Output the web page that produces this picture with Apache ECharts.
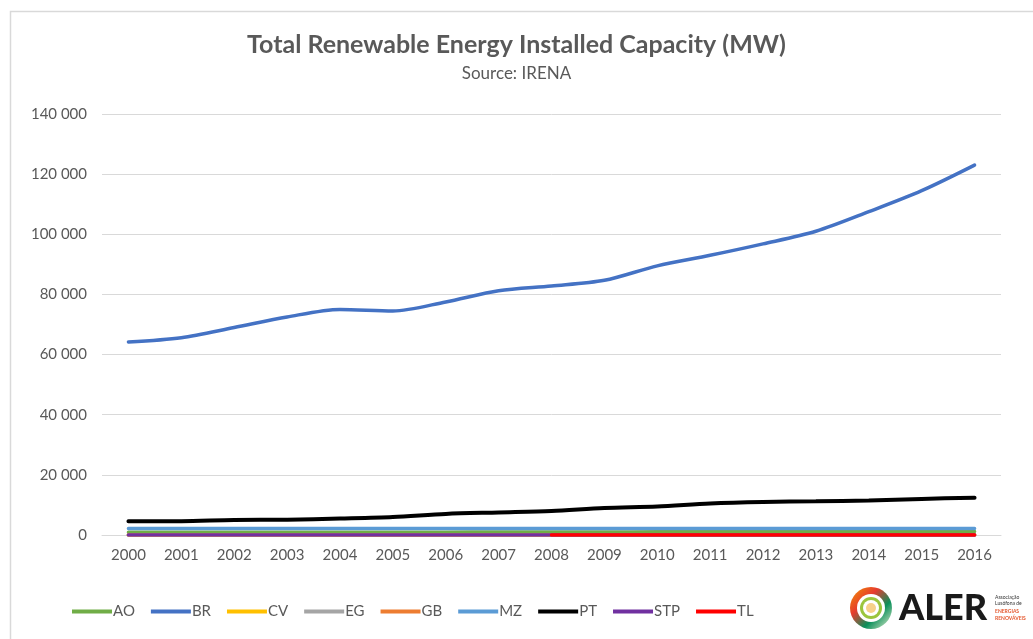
<!DOCTYPE html>
<html>
<head>
<meta charset="utf-8">
<script src="https://cdn.jsdelivr.net/npm/echarts@6/dist/echarts.min.js"></script>
<style>
  html, body { margin: 0; padding: 0; background: #fff; }
  #chart { width: 1033px; height: 639px; }
</style>
</head>
<body>
<div id="chart"></div>
<script>
const years = ['2000','2001','2002','2003','2004','2005','2006','2007','2008','2009','2010','2011','2012','2013','2014','2015','2016'];

const AO  = [900, 900, 950, 950, 950, 950, 950, 1000, 1000, 1000, 1050, 1050, 1100, 1100, 1100, 1150, 1150];
const BR  = [64200, 65600, 69000, 72500, 75000, 74500, 77500, 81200, 82800, 84700, 89500, 93000, 96800, 101000, 107500, 114500, 123000];
const CV  = [10, 10, 10, 10, 10, 10, 10, 10, 15, 20, 30, 40, 50, 55, 55, 55, 60];
const EG  = [20, 20, 20, 20, 20, 20, 20, 20, 20, 20, 20, 20, 20, 20, 20, 20, 20];
const GB  = [0, 0, 0, 0, 0, 0, 0, 0, 0, 0, 0, 0, 0, 0, 0, 0, 0];
const MZ  = [2200, 2200, 2200, 2200, 2200, 2200, 2200, 2200, 2200, 2200, 2200, 2200, 2200, 2200, 2200, 2200, 2200];
const PT  = [4550, 4600, 5000, 5100, 5500, 6000, 7000, 7500, 8000, 9000, 9500, 10500, 11000, 11200, 11500, 12000, 12400];
const STP = [5, 5, 5, 5, 5, 5, 5, 5, 5, 5, 5, 5, 5, 5, 5, 5, 5];
const TL  = [null, null, null, null, null, null, null, null, 1, 1, 1, 1, 1, 1, 1, 1, 1];

const seriesDefs = [
  { name: 'AO', data: AO, color: '#70AD47' },
  { name: 'BR', data: BR, color: '#4472C4' },
  { name: 'CV', data: CV, color: '#FFC000' },
  { name: 'EG', data: EG, color: '#A5A5A5' },
  { name: 'GB', data: GB, color: '#ED7D31' },
  { name: 'MZ', data: MZ, color: '#5B9BD5' },
  { name: 'PT', data: PT, color: '#000000' },
  { name: 'STP', data: STP, color: '#7030A0' },
  { name: 'TL', data: TL, color: '#FF0000' }
];

const FONT = 'Lato, "Open Sans", sans-serif';

const chart = echarts.init(document.getElementById('chart'));
chart.setOption({
  backgroundColor: '#fff',
  animation: false,
  title: {
    text: 'Total Renewable Energy Installed Capacity (MW)',
    subtext: 'Source: IRENA',
    left: 'center',
    top: 27,
    itemGap: 8,
    textStyle: { fontFamily: FONT, fontSize: 25, fontWeight: 'bold', color: '#595959' },
    subtextStyle: { fontFamily: FONT, fontSize: 17, color: '#595959' }
  },
  legend: {
    left: 67,
    top: 599,
    icon: 'rect',
    itemWidth: 40,
    itemHeight: 4,
    itemGap: 16,
    textStyle: { fontFamily: FONT, fontSize: 15, color: '#595959', padding: [0, 0, 0, -4] },
    data: seriesDefs.map(s => s.name)
  },
  grid: { left: 102, right: 32, top: 114, bottom: 104 },
  xAxis: {
    type: 'category',
    data: years,
    boundaryGap: true,
    axisLine: { lineStyle: { color: '#d9d9d9', width: 1 } },
    axisTick: { show: false },
    axisLabel: { fontFamily: FONT, fontSize: 15, color: '#595959', margin: 13 }
  },
  yAxis: {
    type: 'value',
    min: 0,
    max: 140000,
    interval: 20000,
    axisLine: { show: false },
    axisTick: { show: false },
    splitLine: { lineStyle: { color: '#d9d9d9', width: 1 } },
    axisLabel: {
      fontFamily: FONT, fontSize: 15, color: '#595959', margin: 15,
      formatter: v => String(v).replace(/\B(?=(\d{3})+(?!\d))/g, ' ')
    }
  },
  series: seriesDefs.map(s => ({
    name: s.name,
    type: 'line',
    data: s.data,
    smooth: 0.3,
    symbol: 'none',
    connectNulls: false,
    lineStyle: { color: s.color, width: s.name === 'PT' ? 4 : 3.5, cap: 'round' },
    itemStyle: { color: s.color }
  })),
  graphic: [
    {
      type: 'rect', z: -1,
      shape: { x: 10.5, y: 11.5, width: 1040, height: 640 },
      style: { fill: 'none', stroke: '#d9d9d9', lineWidth: 1.5 }
    },
    {
      type: 'group', left: 850, top: 587,
      children: [
        { type: 'circle', shape: { cx: 22, cy: 22, r: 21 },
          style: { fill: new echarts.graphic.LinearGradient(0, 0, 1, 1, [
            { offset: 0, color: '#f39200' }, { offset: 0.35, color: '#e63c2f' },
            { offset: 0.65, color: '#0a8f5a' }, { offset: 1, color: '#e8f0d0' }]) } },
        { type: 'circle', shape: { cx: 22, cy: 22, r: 14 }, style: { fill: '#fff' } },
        { type: 'circle', shape: { cx: 22, cy: 22, r: 11 }, style: { fill: '#9bc53d' } },
        { type: 'circle', shape: { cx: 22, cy: 22, r: 8 }, style: { fill: '#fff' } },
        { type: 'circle', shape: { cx: 22, cy: 22, r: 5 }, style: { fill: '#f7d08a' } },
        { type: 'text', x: 50, y: 4,
          style: { text: 'ALER', font: '900 36px ' + FONT, fill: '#1a1a1a' } },
        { type: 'text', x: 146, y: 8,
          style: { text: 'Associação\nLusófona de', font: '5px ' + FONT, fill: '#333', lineHeight: 6 } },
        { type: 'text', x: 146, y: 22,
          style: { text: 'ENERGIAS\nRENOVÁVEIS', font: 'bold 5px ' + FONT, fill: '#e4572e', lineHeight: 7 } }
      ]
    }
  ]
});
</script>
</body>
</html>
